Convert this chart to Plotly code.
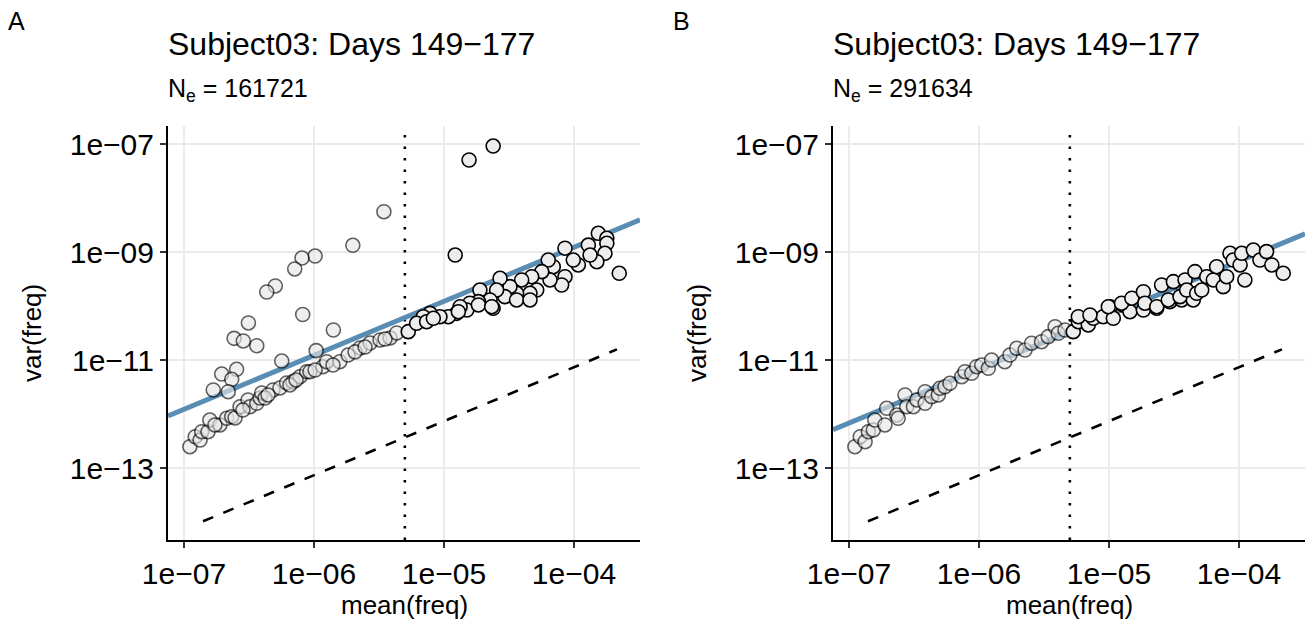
import plotly.graph_objects as go

W, H = 1308, 622

# ---------------- data ----------------
NE = [161721, 291634]
TITLE = "Subject03: Days 149\u2212177"
THRESH = 5e-6
DASH_X = [1.4e-7, 2.14e-4]
DASH_FACTOR = 7.45e-8

X_TICKS = [1e-7, 1e-6, 1e-5, 1e-4]
X_TICKTEXT = ["1e\u221207", "1e\u221206", "1e\u221205", "1e\u221204"]
Y_TICKS = [1e-13, 1e-11, 1e-9, 1e-7]
Y_TICKTEXT = ["1e\u221213", "1e\u221211", "1e\u221209", "1e\u221207"]

A_gray_mean = [1.11e-7, 1.22e-7, 1.33e-7, 1.37e-7, 1.53e-7, 1.58e-7, 1.89e-7, 2.13e-7, 2.33e-7, 2.47e-7,
               2.70e-7, 3.11e-7, 3.22e-7, 3.63e-7, 3.85e-7, 3.96e-7, 4.84e-7, 5.47e-7, 6.16e-7, 6.89e-7,
               7.80e-7, 8.79e-7, 9.31e-7, 1.17e-6, 1.25e-6, 1.58e-6, 1.83e-6, 2.26e-6, 2.70e-6, 3.22e-6,
               3.85e-6, 4.33e-6, 1.73e-7, 2.84e-7, 4.20e-7, 4.43e-7, 6.53e-7, 7.28e-7, 1.02e-6, 1.40e-6,
               2.07e-6, 2.47e-6, 3.52e-6,
               3.45e-6, 1.99e-6, 1.02e-6, 8.09e-7, 7.11e-7, 5.04e-7, 4.33e-7, 8.19e-7, 3.13e-7, 1.41e-6,
               2.43e-7, 2.86e-7, 3.63e-7, 5.65e-7, 1.04e-6, 1.95e-7, 2.54e-7, 2.33e-7, 1.68e-7, 2.19e-7]
A_gray_var = [2.51e-13, 3.85e-13, 3.34e-13, 4.76e-13, 4.76e-13, 7.83e-13, 6.34e-13, 8.43e-13, 9.03e-13, 8.54e-13,
              1.38e-12, 1.84e-12, 1.38e-12, 1.60e-12, 2.00e-12, 2.48e-12, 2.82e-12, 3.07e-12, 3.80e-12, 4.02e-12,
              4.97e-12, 6.15e-12, 6.15e-12, 7.60e-12, 9.41e-12, 9.41e-12, 1.25e-11, 1.69e-11, 2.09e-11, 2.38e-11,
              2.59e-11, 3.21e-11, 6.34e-13, 1.20e-12, 2.00e-12, 2.28e-12, 3.49e-12, 4.32e-12, 6.61e-12, 8.18e-12,
              1.43e-11, 1.76e-11, 2.48e-11,
              5.65e-9, 1.35e-9, 8.53e-10, 7.83e-10, 4.91e-10, 2.38e-10, 1.84e-10, 7.05e-11, 4.91e-11, 3.64e-11,
              2.55e-11, 2.28e-11, 1.86e-11, 9.70e-12, 1.51e-11, 5.57e-12, 6.81e-12, 4.45e-12, 2.82e-12, 2.62e-12]

A_black_mean = [2.39e-5, 1.56e-5, 1.22e-5, 2.23e-4,
                1.54e-4, 1.79e-4, 1.79e-4, 1.73e-4, 1.50e-4, 1.29e-4, 1.33e-4, 1.08e-4, 9.88e-5, 8.53e-5,
                8.53e-5, 8.04e-5, 6.93e-5, 6.34e-5, 6.54e-5, 5.65e-5, 5.17e-5, 4.73e-5, 4.59e-5, 3.96e-5,
                3.62e-5, 3.22e-5, 2.94e-5, 2.70e-5, 2.54e-5, 2.26e-5, 2.39e-5, 1.89e-5, 1.84e-5, 1.58e-5,
                1.50e-5, 1.33e-5, 1.25e-5, 1.08e-5, 9.31e-6, 7.80e-6, 6.93e-6, 5.31e-6, 6.16e-6, 7.36e-6,
                8.28e-6, 1.29e-5, 1.84e-5, 2.33e-5, 3.62e-5, 4.59e-5]
A_black_var = [9.30e-8, 5.12e-8, 8.91e-10, 4.08e-10,
               2.25e-9, 1.82e-9, 1.47e-9, 9.58e-10, 6.70e-10, 1.36e-9, 8.91e-10, 5.82e-10, 7.19e-10, 1.19e-9,
               3.53e-10, 2.48e-10, 5.41e-10, 7.19e-10, 3.07e-10, 4.38e-10, 2.00e-10, 3.53e-10, 1.74e-10, 3.07e-10,
               1.74e-10, 2.31e-10, 1.51e-10, 3.30e-10, 2.00e-10, 1.31e-10, 9.19e-11, 2.00e-10, 1.22e-10, 1.14e-10,
               8.53e-11, 9.84e-11, 7.41e-11, 6.41e-11, 6.41e-11, 7.41e-11, 6.41e-11, 3.39e-11, 4.84e-11, 5.19e-11,
               6.00e-11, 7.94e-11, 1.06e-10, 9.84e-11, 1.31e-10, 1.31e-10]

B_gray_mean = [1.11e-7, 1.22e-7, 1.33e-7, 1.41e-7, 1.54e-7, 1.58e-7, 1.89e-7, 1.95e-7, 2.33e-7, 2.39e-7,
               2.70e-7, 2.78e-7, 3.13e-7, 3.32e-7, 3.85e-7, 3.85e-7, 4.33e-7, 4.87e-7, 5.01e-7, 5.47e-7,
               5.98e-7, 7.36e-7, 7.80e-7, 8.79e-7, 9.60e-7, 1.05e-6, 1.18e-6, 1.25e-6, 1.58e-6, 1.73e-6,
               1.95e-6, 2.26e-6, 2.54e-6, 3.03e-6, 3.41e-6, 3.85e-6, 4.07e-6, 4.59e-6]
B_gray_var = [2.51e-13, 3.85e-13, 3.11e-13, 4.76e-13, 5.12e-13, 7.83e-13, 6.34e-13, 1.29e-12, 9.70e-13, 8.43e-13,
              2.28e-12, 1.38e-12, 1.38e-12, 1.84e-12, 2.62e-12, 1.60e-12, 2.12e-12, 2.28e-12, 3.03e-12, 3.24e-12,
              3.75e-12, 4.97e-12, 6.15e-12, 5.74e-12, 7.60e-12, 8.18e-12, 7.11e-12, 1.01e-11, 9.41e-12, 1.25e-11,
              1.67e-11, 1.55e-11, 2.07e-11, 2.21e-11, 2.74e-11, 4.19e-11, 3.16e-11, 3.64e-11]

B_black_mean = [5.31e-6, 5.81e-6, 6.93e-6, 7.57e-6, 9.03e-6, 1.02e-5, 1.08e-5, 1.29e-5, 1.45e-5, 1.84e-5,
                2.33e-5, 2.94e-5, 3.62e-5, 4.45e-5, 5.81e-6, 7.14e-6, 9.88e-6, 1.25e-5, 1.50e-5, 1.84e-5,
                1.89e-5, 2.33e-5, 2.54e-5, 2.86e-5, 3.13e-5, 3.52e-5, 3.85e-5, 3.96e-5, 4.59e-5, 4.73e-5,
                5.17e-5, 5.65e-5, 6.35e-5, 6.73e-5, 7.57e-5, 8.04e-5, 8.53e-5, 9.03e-5, 1.02e-4, 1.05e-4,
                1.11e-4, 1.29e-4, 1.45e-4, 1.63e-4, 1.79e-4, 2.19e-4]
B_black_var = [3.39e-11, 5.19e-11, 4.51e-11, 6.00e-11, 6.41e-11, 9.84e-11, 6.00e-11, 1.06e-10, 7.94e-11, 8.53e-11,
               9.19e-11, 1.22e-10, 1.31e-10, 1.31e-10, 6.41e-11, 6.90e-11, 9.84e-11, 1.14e-10, 1.41e-10, 1.86e-10,
               1.14e-10, 9.84e-11, 2.48e-10, 1.31e-10, 2.86e-10, 1.51e-10, 3.07e-10, 2.00e-10, 4.38e-10, 1.74e-10,
               2.00e-10, 3.53e-10, 3.07e-10, 5.41e-10, 2.31e-10, 3.53e-10, 9.58e-10, 7.19e-10, 5.82e-10, 9.58e-10,
               3.07e-10, 1.10e-9, 7.19e-10, 1.03e-9, 5.82e-10, 4.08e-10]

# ---------------- layout geometry ----------------
X_RANGE_LOG = [-7.123, -3.492]
Y_RANGE_LOG = [-14.328, -6.661]
PANEL_LEFT = [168, 833]
PANEL_RIGHT = [640, 1305]
PANEL_TOP, PANEL_BOTTOM = 126, 540
FONT = "Liberation Sans, Arial, sans-serif"


def px(x):
    return x / W


def py(y):
    return 1 - y / H


fig = go.Figure()
panels = [
    (A_gray_mean, A_gray_var, A_black_mean, A_black_var, NE[0]),
    (B_gray_mean, B_gray_var, B_black_mean, B_black_var, NE[1]),
]
for i, (gm, gv, bm, bv, ne) in enumerate(panels):
    xa = "x" if i == 0 else "x2"
    ya = "y" if i == 0 else "y2"
    common = dict(xaxis=xa, yaxis=ya, showlegend=False, hoverinfo="skip")
    # dashed reference line
    fig.add_trace(go.Scatter(x=DASH_X, y=[m * DASH_FACTOR for m in DASH_X], mode="lines",
                             line=dict(color="black", width=2.6, dash="11px,11px"), **common))
    # vertical dotted threshold
    fig.add_trace(go.Scatter(x=[THRESH, THRESH], y=[10 ** Y_RANGE_LOG[0], 10 ** Y_RANGE_LOG[1]], mode="lines",
                             line=dict(color="black", width=2.6, dash="2.6px,8.9px"), **common))
    # Ne fit line
    xs = [10 ** X_RANGE_LOG[0], 10 ** X_RANGE_LOG[1]]
    fig.add_trace(go.Scatter(x=xs, y=[2 * x / ne for x in xs], mode="lines",
                             line=dict(color="#5A8DB3", width=5), **common))
    # grey points
    fig.add_trace(go.Scatter(x=gm, y=gv, mode="markers",
                             marker=dict(size=14, color="#E6E6E6", opacity=0.62,
                                         line=dict(color="black", width=1.6)), **common))
    # black points
    fig.add_trace(go.Scatter(x=bm, y=bv, mode="markers",
                             marker=dict(size=14, color="#EDEDED",
                                         line=dict(color="black", width=1.6)), **common))

axis_common = dict(type="log", showline=True, linecolor="black", linewidth=2,
                   ticks="outside", ticklen=6, tickwidth=2, tickcolor="#333333",
                   showgrid=True, gridcolor="#EBEBEB", gridwidth=1.5, zeroline=False,
                   automargin=False,
                   tickfont=dict(family=FONT, size=30, color="black"))

layout = dict(width=W, height=H, margin=dict(l=0, r=0, t=0, b=0, autoexpand=False),
              paper_bgcolor="white", plot_bgcolor="white", font=dict(family=FONT, color="black"))
for i in range(2):
    sx = "" if i == 0 else "2"
    layout["xaxis" + sx] = dict(axis_common, domain=[px(PANEL_LEFT[i]), px(PANEL_RIGHT[i])],
                                range=X_RANGE_LOG, tickvals=X_TICKS, ticktext=X_TICKTEXT,
                                anchor="y" + sx)
    layout["yaxis" + sx] = dict(axis_common, domain=[py(PANEL_BOTTOM), py(PANEL_TOP)],
                                range=Y_RANGE_LOG, tickvals=Y_TICKS, ticktext=Y_TICKTEXT,
                                anchor="x" + sx)
fig.update_layout(**layout)

ann = []
for i, tag in enumerate(["A", "B"]):
    off = 0 if i == 0 else 665
    ann.append(dict(text=tag, x=px(6 + off), y=py(21), xanchor="left", yanchor="middle",
                    font=dict(size=25)))
    ann.append(dict(text=TITLE, x=px(166 + off), y=py(44), xanchor="left", yanchor="middle",
                    font=dict(size=32)))
    ann.append(dict(text="N<sub>e</sub> = %d" % NE[i], x=px(166 + off), y=py(90), xanchor="left",
                    yanchor="middle", font=dict(size=25)))
    ann.append(dict(text="mean(freq)", x=px((PANEL_LEFT[i] + PANEL_RIGHT[i]) / 2), y=py(605),
                    xanchor="center", yanchor="middle", font=dict(size=26)))
    ann.append(dict(text="var(freq)", x=px(32 + off), y=py((PANEL_TOP + PANEL_BOTTOM) / 2),
                    xanchor="center", yanchor="middle", textangle=-90, font=dict(size=26)))
for a in ann:
    a.update(xref="paper", yref="paper", showarrow=False)
fig.update_layout(annotations=ann)

fig.write_html("out.html")
